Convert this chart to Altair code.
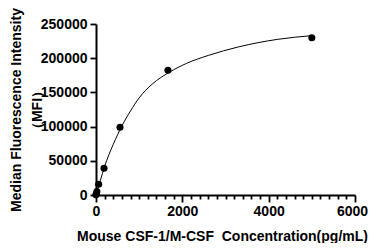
import altair as alt
import pandas as pd

# Measured points
conc = [0, 6.9, 20.6, 61.7, 185.2, 555.6, 1666.7, 5000]
mfi = [300, 1500, 5000, 15600, 39000, 99000, 182500, 230000]

# Fitted curve
curve_x = [0, 50, 100, 200, 300, 400, 600, 800, 1000, 1300, 1700, 2100, 2600, 3300, 4200, 5000]
curve_y = [0, 11000, 21000, 42000, 59000, 74000, 101000, 123000, 142000, 162000, 179500, 192500, 204000, 216500, 227500, 233000]

x_ticks = list(range(0, 6001, 200))
y_ticks = [0, 50000, 100000, 150000, 200000, 250000]

pts = pd.DataFrame({"x": conc, "y": mfi})
crv = pd.DataFrame({"x": curve_x, "y": curve_y})

font = "Liberation Sans"

xenc = alt.X(
    "x:Q",
    scale=alt.Scale(domain=[0, 6000], nice=False, zero=False),
    axis=alt.Axis(
        values=x_ticks,
        labelExpr="datum.value % 2000 === 0 ? datum.label : ''",
        format="d",
        title="Mouse CSF-1/M-CSF\u00a0 Concentration(pg/mL)",
        tickSize={"condition": {"test": "datum.value % 2000 === 0", "value": 7}, "value": 4},
        labelOffset={"condition": {"test": "datum.value === 6000", "value": -3}, "value": 0},
        labelOverlap=False,
        labelFlush=False,
        grid=False,
        labelPadding=2,
        titlePadding=11,
        titleX=126,
    ),
)
yenc = alt.Y(
    "y:Q",
    scale=alt.Scale(domain=[0, 250000], nice=False),
    axis=alt.Axis(
        values=y_ticks,
        format="d",
        title=["Median Fluorescence Intensity", "（MFI）"],
        tickSize=6,
        grid=False,
        labelOverlap=False,
        titleLineHeight=21,
        titlePadding=-4,
    ),
)

line = alt.Chart(crv).mark_line(color="black", strokeWidth=1, interpolate="monotone").encode(x=xenc, y=yenc)
dots = alt.Chart(pts).mark_circle(color="black", size=50, opacity=1).encode(x=xenc, y=yenc)

chart = (
    alt.layer(line, dots)
    .properties(
        width=259,
        height=171,
        autosize=alt.AutoSizeParams(type="none"),
        padding={"left": 88, "top": 16, "right": 13, "bottom": 48},
    )
    .configure_view(stroke=None)
    .configure_axis(
        domainColor="black",
        domainWidth=2,
        tickColor="black",
        tickWidth=1.8,
        labelFont=font,
        labelFontSize=14,
        labelFontWeight="bold",
        labelColor="black",
        labelPadding=3,
        titleFont=font,
        titleFontSize=14,
        titleFontWeight="bold",
        titleColor="black",
    )
)

chart.save("out.html", embed_options={"renderer": "svg", "actions": False})
